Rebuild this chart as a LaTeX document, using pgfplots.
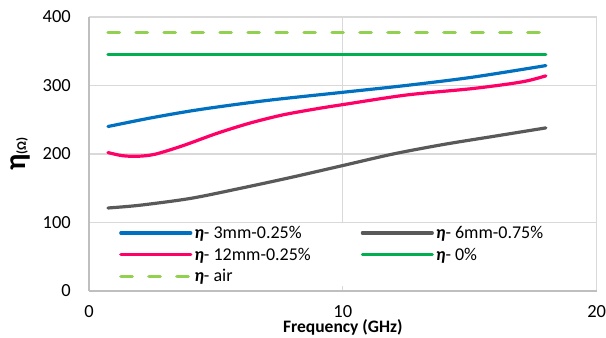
\documentclass[border=0pt]{standalone}
\usepackage{pgfplots}
\pgfplotsset{compat=1.18}
\usepackage{fontspec}
\setmainfont{Carlito}
\definecolor{cblue}{HTML}{0070C0}
\definecolor{cgray}{HTML}{595959}
\definecolor{cpink}{HTML}{FF0066}
\definecolor{cgreen}{HTML}{00B050}
\definecolor{clgreen}{HTML}{92D050}
\definecolor{gridc}{HTML}{D9D9D9}
\definecolor{axc}{HTML}{BFBFBF}
\newcommand{\myeta}{\textbf{\textit{η}}}
\begin{document}
\begin{tikzpicture}
\begin{axis}[
  scale only axis,
  width=508bp, height=274bp,
  xmin=0, xmax=20, ymin=0, ymax=400,
  xtick={0,10,20}, ytick={0,100,200,300,400},
  /pgf/number format/assume math mode=true,
  tick label style={font=\fontsize{18.5bp}{20bp}\selectfont, inner sep=0pt},
  xticklabel style={anchor=base, yshift=-26.5bp},
  yticklabel style={anchor=east, xshift=-18bp},
  major tick length=0pt,
  axis x line*=bottom, axis y line*=left,
  axis line style={draw=axc, line width=1.5bp, -},
  grid=major,
  major grid style={draw=gridc, line width=1.3bp},
  xlabel={\textbf{Frequency (GHz)}},
  xlabel style={font=\fontsize{17.5bp}{19bp}\selectfont, inner sep=0pt, at={(axis description cs:0.5,0)}, anchor=base, yshift=-42bp},
  ylabel={\textbf{\fontsize{30bp}{30bp}\selectfont η}\textbf{\fontsize{13bp}{16bp}\selectfont(Ω)}},
  ylabel style={at={(axis description cs:-0.134,0.5)}, anchor=center, inner sep=0pt},
  legend columns=2,
  legend cell align=left,
  legend style={draw=none, fill=white, at={(axis description cs:0.012,0.248)}, anchor=north west,
    font=\fontsize{18bp}{20bp}\selectfont, inner xsep=24bp, inner ysep=1bp,
    /tikz/every even column/.append style={column sep=48bp},
    row sep=4bp},
  legend image code/.code={\draw[#1] (0bp,0bp) -- (70bp,0bp);},
  every axis plot/.append style={line width=3.2bp, smooth, no marks, line cap=round},
  clip=false,
]
\addplot[cblue] coordinates {(0.75,240) (2.5,253) (4.4,265) (7,278) (10,290) (12.5,300) (15.1,312) (18,329)};
\addlegendentry{\myeta- 3mm-0.25\%}
\addplot[cgray] coordinates {(0.75,121) (2,125) (4,135) (6,150) (8,166) (10,183) (12,200) (14,214) (16,226) (18,238)};
\addlegendentry{\myeta- 6mm-0.75\%}
\addplot[cpink] coordinates {(0.75,202) (1.3,197.5) (1.9,196.5) (2.6,199.5) (3.7,212) (5.04,230) (6.34,245) (7.64,257) (8.98,266) (10,272) (12.5,286) (15,295) (16.5,302) (17.3,307) (18,314)};
\addlegendentry{\myeta- 12mm-0.25\%}
\addplot[cgreen] coordinates {(0.75,345) (18,345)};
\addlegendentry{\myeta- 0\%}
\addplot[clgreen, dash pattern=on 11.5bp off 16.5bp] coordinates {(0.75,377) (18,377)};
\addlegendentry{\myeta- air}
\coordinate (sw) at (rel axis cs:0,0);
\coordinate (ne) at (rel axis cs:1,1);
\end{axis}
\path ([xshift=-89bp,yshift=-47bp]sw) rectangle ([xshift=9bp,yshift=17bp]ne);
\end{tikzpicture}
\end{document}
